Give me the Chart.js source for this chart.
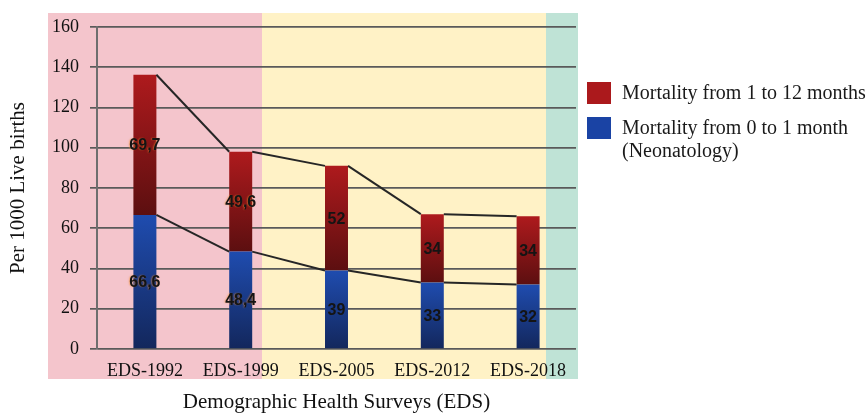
<!DOCTYPE html>
<html>
<head>
<meta charset="utf-8">
<script src="https://cdn.jsdelivr.net/npm/chart.js@4/dist/chart.umd.min.js"></script>
<style>
  html, body { margin: 0; padding: 0; background: #ffffff; }
  #wrap { position: relative; width: 868px; height: 413px; overflow: hidden; }
  #bands {
    position: absolute; left: 48px; top: 13px; width: 530px; height: 366px;
    background: linear-gradient(to right,
      #f4c5cc 0px, #f4c5cc 214px,
      #fff2c6 214px, #fff2c6 498px,
      #bfe3d6 498px, #bfe3d6 530px);
  }
  #chart { position: absolute; left: 0; top: 0; }
  #legend {
    position: absolute; left: 587px; top: 82px;
    font-family: "Liberation Serif", "Times New Roman", serif;
    font-size: 20px; color: #1a1a1a;
  }
  .item { position: relative; height: 35px; }
  .swatch { position: absolute; left: 0; top: 0; width: 24px; height: 22px; }
  .text { position: absolute; left: 35px; top: -1px; line-height: 23px; white-space: nowrap; }
</style>
</head>
<body>
<div id="wrap">
  <div id="bands"></div>
  <canvas id="chart" width="868" height="413"></canvas>
  <div id="legend"></div>
</div>
<script>
// Survey rounds
const categories = ['EDS-1992', 'EDS-1999', 'EDS-2005', 'EDS-2012', 'EDS-2018'];
// Deaths per 1000 live births, 0 to 1 month (neonatal)
const neonatal = [66.6, 48.4, 39, 33, 32];
// Deaths per 1000 live births, 1 to 12 months
const postNeonatal = [69.7, 49.6, 52, 34, 34];
// Y axis ticks
const yTicks = [0, 20, 40, 60, 80, 100, 120, 140, 160];

const seriesNames = ['Mortality from 0 to 1 month (Neonatology)', 'Mortality from 1 to 12 months'];
const legendLines = [['Mortality from 0 to 1 month', '(Neonatology)'], ['Mortality from 1 to 12 months']];
const swatchColors = ['#1a43a4', '#ab191c'];

const serif = '"Liberation Serif", "Times New Roman", serif';

// Vertical gradient for one stacked segment, from its top value to its bottom value
function segmentGradient(ctx, lowValues, highValues, topColor, bottomColor) {
  const chart = ctx.chart;
  const y = chart.scales.y;
  if (!y || ctx.type !== 'data') return topColor;
  const i = ctx.dataIndex;
  const low = lowValues ? lowValues[i] : 0;
  const y0 = y.getPixelForValue(low + highValues[i]);
  const y1 = y.getPixelForValue(low);
  if (!isFinite(y0) || !isFinite(y1) || y0 === y1) return topColor;
  const g = chart.ctx.createLinearGradient(0, y0, 0, y1);
  g.addColorStop(0, topColor);
  g.addColorStop(1, bottomColor);
  return g;
}

// Lines joining the tops of consecutive bars in each stack level
const seriesLines = {
  id: 'seriesLines',
  afterDatasetsDraw(chart) {
    const c = chart.ctx;
    c.save();
    c.strokeStyle = '#262626';
    c.lineWidth = 2;
    chart.data.datasets.forEach((ds, di) => {
      const bars = chart.getDatasetMeta(di).data;
      for (let i = 0; i < bars.length - 1; i++) {
        const a = bars[i], b = bars[i + 1];
        c.beginPath();
        c.moveTo(a.x + a.width / 2, a.y);
        c.lineTo(b.x - b.width / 2, b.y);
        c.stroke();
      }
    });
    c.restore();
  }
};

// Value labels centred in each segment
const segmentLabels = {
  id: 'segmentLabels',
  afterDatasetsDraw(chart) {
    const c = chart.ctx;
    c.save();
    c.font = 'bold 16px "Liberation Sans", Arial, sans-serif';
    c.textAlign = 'center';
    c.textBaseline = 'middle';
    chart.data.datasets.forEach((ds, di) => {
      chart.getDatasetMeta(di).data.forEach((bar, i) => {
        const p = bar.getCenterPoint();
        const txt = String(ds.data[i]).replace('.', ',');
        if (i < 2) {
          c.shadowColor = 'rgba(240,140,50,0.55)';
          c.shadowBlur = 1.5;
          c.shadowOffsetX = -1;
        } else {
          c.shadowColor = 'transparent';
          c.shadowBlur = 0;
          c.shadowOffsetX = 0;
        }
        c.fillStyle = '#141414';
        c.fillText(txt, p.x, p.y + 1);
      });
    });
    c.restore();
  }
};

const chart = new Chart(document.getElementById('chart'), {
  type: 'bar',
  data: {
    labels: categories,
    datasets: [
      {
        label: seriesNames[0],
        data: neonatal,
        backgroundColor: (ctx) => segmentGradient(ctx, null, neonatal, '#1f4caf', '#13275c'),
        borderWidth: 0,
        barPercentage: 0.24,
        categoryPercentage: 1
      },
      {
        label: seriesNames[1],
        data: postNeonatal,
        backgroundColor: (ctx) => segmentGradient(ctx, neonatal, postNeonatal, '#ae1a1d', '#5c0f10'),
        borderWidth: 0,
        barPercentage: 0.24,
        categoryPercentage: 1
      }
    ]
  },
  options: {
    responsive: false,
    animation: false,
    layout: { padding: { left: 0, top: 27, right: 292, bottom: 0 } },
    plugins: {
      legend: { display: false },
      tooltip: { enabled: false }
    },
    scales: {
      x: {
        stacked: true,
        grid: { display: false, drawTicks: false },
        border: { display: false },
        ticks: { color: '#111', font: { family: serif, size: 18 }, padding: 11 },
        title: {
          display: true,
          text: 'Demographic Health Surveys (EDS)',
          color: '#111',
          font: { family: serif, size: 21, lineHeight: 1 },
          padding: { top: 0, bottom: 0 }
        },
        afterFit(scale) { scale.height = 64; }
      },
      y: {
        stacked: true,
        min: yTicks[0],
        max: yTicks[yTicks.length - 1],
        afterBuildTicks(scale) { scale.ticks = yTicks.map(v => ({ value: v })); },
        grid: { color: '#5a5a5a', lineWidth: 1.7, tickLength: 7 },
        border: { color: '#6e6e6e', width: 2 },
        ticks: { color: '#111', font: { family: serif, size: 18 }, padding: 11 },
        title: {
          display: true,
          text: 'Per 1000 Live births',
          color: '#111',
          font: { family: serif, size: 21, lineHeight: 1 },
          padding: { top: 8, bottom: 0 }
        },
        afterFit(scale) { scale.width = 97; }
      }
    }
  },
  plugins: [seriesLines, segmentLabels]
});

// Legend: upper segment first, as stacked
const legend = document.getElementById('legend');
[1, 0].forEach(di => {
  const item = document.createElement('div');
  item.className = 'item';
  const sw = document.createElement('div');
  sw.className = 'swatch';
  sw.style.background = swatchColors[di];
  const tx = document.createElement('div');
  tx.className = 'text';
  legendLines[di].forEach((line, k) => {
    if (k) tx.appendChild(document.createElement('br'));
    tx.appendChild(document.createTextNode(line));
  });
  item.appendChild(sw);
  item.appendChild(tx);
  legend.appendChild(item);
});
</script>
</body>
</html>
